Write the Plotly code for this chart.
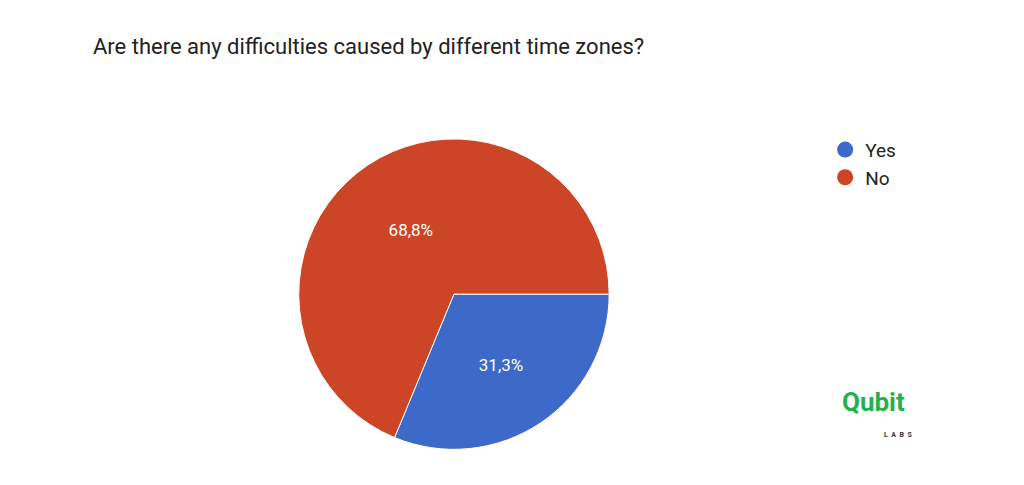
import plotly.graph_objects as go

labels = ["Yes", "No"]
values = [5, 11]
colors = ["#3d69c9", "#cc4526"]

fig = go.Figure(go.Pie(
    labels=labels, values=values, sort=False,
    direction="clockwise", rotation=90, showlegend=False,
    marker=dict(colors=colors, line=dict(color="white", width=1)),
    texttemplate="%{percent:.1%}", textposition="inside",
    textfont=dict(color="white", size=17, family="Roboto"),
    domain=dict(x=[0.283, 0.588], y=[0.09, 0.73]),
    hoverinfo="label+percent",
))

# legend entries with round markers
for lab, col in zip(labels, colors):
    fig.add_trace(go.Scatter(x=[None], y=[None], mode="markers", name=lab,
                             marker=dict(symbol="circle", size=18, color=col)))

fig.update_xaxes(visible=False)
fig.update_yaxes(visible=False)

fig.update_layout(
    width=1024, height=485, separators=",.",
    paper_bgcolor="white", plot_bgcolor="white",
    margin=dict(l=0, r=0, t=0, b=0),
    title=dict(text="Are there any difficulties caused by different time zones?",
               x=0.083, xanchor="left", y=0.922, yanchor="middle",
               font=dict(family="Roboto", size=22, color="#222222")),
    legend=dict(x=0.798, y=0.747, xanchor="left", yanchor="top",
                font=dict(family="Roboto", size=19, color="#222222"),
                itemwidth=30, itemsizing="trace"),
    annotations=[
        dict(text="<b>Qubit</b>", x=0.878, y=0.152, xref="paper", yref="paper",
             showarrow=False, font=dict(family="Roboto", size=26, color="#22b14c")),
        dict(text="<b>L  A  B  S</b>", x=0.885, y=0.108, xref="paper", yref="paper",
             showarrow=False, font=dict(family="Roboto", size=7, color="#333333")),
    ],
)

fig.write_html("out.html")
